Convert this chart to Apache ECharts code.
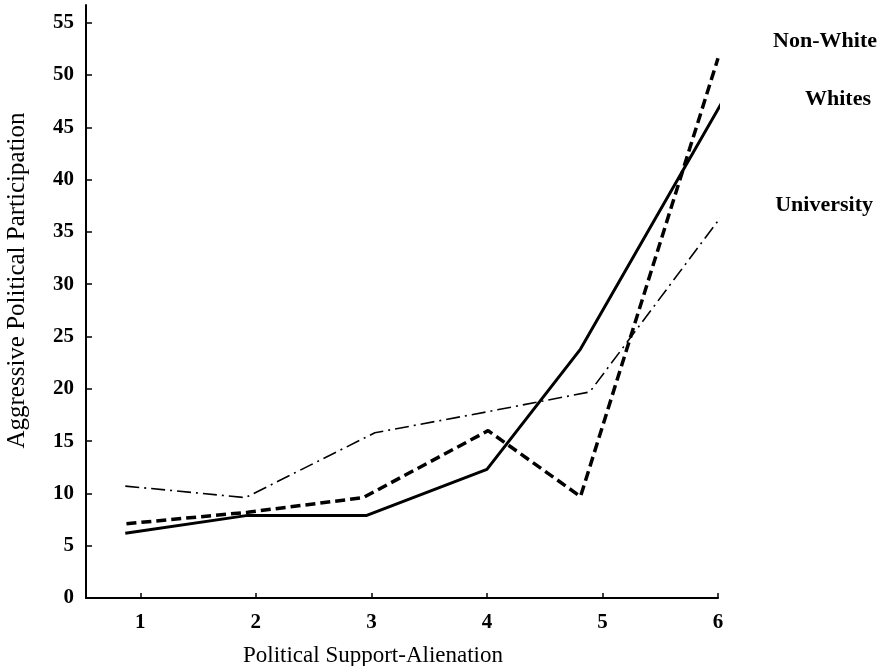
<!DOCTYPE html>
<html>
<head>
<meta charset="utf-8">
<script src="https://cdn.jsdelivr.net/npm/echarts@6/dist/echarts.min.js"></script>
<style>
html,body{margin:0;padding:0;background:#fff;}
#chart{width:878px;height:666px;}
</style>
</head>
<body>
<div id="chart"></div>
<script>
// Tick labels
const xTickLabels = [1, 2, 3, 4, 5, 6];
const yTickLabels = [0, 5, 10, 15, 20, 25, 30, 35, 40, 45, 50, 55];

// Series names
const seriesNames = ['Non-White', 'Whites', 'University'];

// Point positions along the Political Support-Alienation scale (as drawn)
const nonWhiteX = [0.88, 1.93, 2.93, 4.01, 4.81, 6.0];
const whitesX = [0.87, 1.93, 2.96, 4.0, 4.81, 6.04];
const universityX = [0.87, 1.91, 3.03, 4.0, 4.89, 6.05];

// Aggressive Political Participation values
const nonWhiteY = [7.1, 8.2, 9.6, 16.0, 9.7, 51.6];
const whitesY = [6.2, 7.9, 7.9, 12.3, 23.8, 47.5];
const universityY = [10.7, 9.6, 15.8, 17.8, 19.7, 36.8];

const zip = (xs, ys) => xs.map((x, i) => [x, ys[i]]);

const serif = '"Liberation Serif", "DejaVu Serif", serif';

const chart = echarts.init(document.getElementById('chart'));
const labelStyle = (offset) => ({
  show: true,
  formatter: '{a}',
  color: '#000',
  fontFamily: serif,
  fontWeight: 'bold',
  fontSize: 22,
  align: 'right',
  offset: offset
});

chart.setOption({
  animation: false,
  backgroundColor: '#fff',
  grid: { left: 86, right: 160, top: 5, bottom: 68, containLabel: false, outerBoundsMode: 'none' },
  xAxis: {
    type: 'value',
    min: 0.53,
    max: 6,
    name: 'Political Support-Alienation',
    nameLocation: 'middle',
    nameGap: 46,
    nameTextStyle: { fontFamily: serif, fontSize: 23, color: '#000', padding: [0, 58, 0, 0] },
    axisLine: { show: true, lineStyle: { color: '#000', width: 2 } },
    axisTick: { show: true, inside: true, length: 5, lineStyle: { color: '#000', width: 1.5 }, customValues: xTickLabels },
    axisLabel: { color: '#000', fontFamily: serif, fontWeight: 'bold', fontSize: 21, margin: 14, customValues: xTickLabels },
    splitLine: { show: false }
  },
  yAxis: {
    type: 'value',
    min: 0,
    max: 56.7,
    name: 'Aggressive Political Participation',
    nameLocation: 'middle',
    nameRotate: 90,
    nameGap: 56,
    nameTextStyle: { fontFamily: serif, fontSize: 25, color: '#000', padding: [0, 0, 0, 42] },
    axisLine: { show: true, lineStyle: { color: '#000', width: 2 } },
    axisTick: { show: true, inside: true, length: 6, lineStyle: { color: '#000', width: 1.5 }, customValues: yTickLabels },
    axisLabel: { color: '#000', fontFamily: serif, fontWeight: 'bold', fontSize: 21, margin: 12, customValues: yTickLabels },
    splitLine: { show: false }
  },
  series: [
    {
      name: seriesNames[0],
      type: 'line',
      data: zip(nonWhiteX, nonWhiteY),
      symbol: 'none',
      lineStyle: { color: '#000', width: 3.5, type: [10, 5] },
      endLabel: labelStyle([151, -17])
    },
    {
      name: seriesNames[1],
      type: 'line',
      data: zip(whitesX, whitesY),
      symbol: 'none',
      lineStyle: { color: '#000', width: 3, type: 'solid' },
      endLabel: labelStyle([143, -6])
    },
    {
      name: seriesNames[2],
      type: 'line',
      data: zip(universityX, universityY),
      symbol: 'none',
      lineStyle: { color: '#000', width: 1.6, type: [14, 5, 2, 5] },
      endLabel: labelStyle([145, -13])
    }
  ]
});
</script>
</body>
</html>
